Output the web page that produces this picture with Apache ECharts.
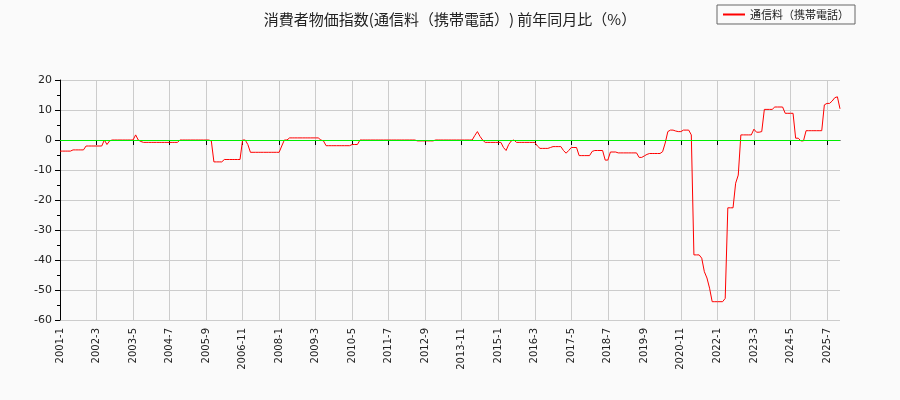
<!DOCTYPE html>
<html><head><meta charset="utf-8">
<script src="https://cdn.jsdelivr.net/npm/echarts@6/dist/echarts.min.js"></script>
<style>html,body{margin:0;background:#fafafa}#c{width:900px;height:400px}</style>
</head><body><div id="c"></div>
<script>
const v2001=[-3.7,-3.7,-3.7,-3.7,-3.7,-3.3,-3.3,-3.3,-3.3,-3.3,-2.0,-2.0];
const v2002=[-2.0,-2.0,-2.0,-2.0,-2.0,0,-1.5,-0.3,0,0,0,0];
const v2003=[0,0,0,0,0,1.7,0,-0.5,-0.8,-0.8,-0.8,-0.8];
const v2004=[-0.8,-0.8,-0.8,-0.8,-0.8,-0.8,-0.8,-0.8,-0.8,-0.8,0,0];
const v2005=[0,0,0,0,0,0,0,0,0,0,-0.3,-7.3];
const v2006=[-7.3,-7.3,-7.3,-6.5,-6.5,-6.5,-6.5,-6.5,-6.5,-6.5,0,0];
const v2007=[-1.5,-4.1,-4.1,-4.1,-4.1,-4.1,-4.1,-4.1,-4.1,-4.1,-4.1,-4.1];
const v2008=[-4.1,-2,0,0,0.7,0.7,0.7,0.7,0.7,0.7,0.7,0.7];
const v2009=[0.7,0.7,0.7,0.7,0,-0.3,-1.9,-1.9,-1.9,-1.9,-1.9,-1.9];
const v2010=[-1.9,-1.9,-1.9,-1.9,-1.5,-1.5,-1.5,0,0,0,0,0];
const v2011=[0,0,0,0,0,0,0,0,0,0,0,0];
const v2012=[0,0,0,0,0,-0.3,-0.3,-0.3,-0.3,-0.3,-0.3,-0.3];
const v2013=[0,0,0,0,0,0,0,0,0,0,0,0];
const v2014=[0,0,0,1.5,2.8,1.2,0,-0.8,-0.8,-0.8,-0.8,-0.8];
const v2015=[-0.8,-0.8,-2.5,-3.5,-1.5,-0.3,0,-0.8,-0.8,-0.8,-0.8,-0.8];
const v2016=[-0.8,-0.8,-0.8,-2,-2.8,-2.8,-2.8,-2.8,-2.5,-2.2,-2.2,-2.2];
const v2017=[-2.2,-3.5,-4.4,-3.5,-2.5,-2.5,-2.5,-5.2,-5.2,-5.2,-5.2,-5.2];
const v2018=[-3.8,-3.5,-3.5,-3.5,-3.5,-6.7,-6.7,-4,-4,-4,-4.3,-4.3];
const v2019=[-4.3,-4.3,-4.3,-4.3,-4.3,-4.3,-5.8,-5.8,-5.3,-4.8,-4.5,-4.5];
const v2020=[-4.5,-4.5,-4.5,-3.9,-1,2.8,3.3,3.3,3.0,2.8,2.8,3.3];
const v2021=[3.3,3.3,1.7,-38.3,-38.3,-38.3,-39.4,-43.9,-46,-49.4,-53.9,-53.9];
const v2022=[-53.9,-53.9,-53.9,-52.8,-22.6,-22.6,-22.6,-14.4,-11.7,1.7,1.7,1.7];
const v2023=[1.7,1.7,3.6,2.6,2.6,2.8,10.2,10.2,10.2,10.2,11,11];
const v2024=[11,11,8.9,8.9,8.9,8.9,0.6,0.6,-0.3,-0.3,3.1,3.1];
const v2025=[3.1,3.1,3.1,3.1,3.1,11.7,12.2,12.2,13,14.1,14.4,10.4];
const yearly=[v2001,v2002,v2003,v2004,v2005,v2006,v2007,v2008,v2009,v2010,v2011,v2012,v2013,v2014,v2015,v2016,v2017,v2018,v2019,v2020,v2021,v2022,v2023,v2024,v2025];
const categories=[], values=[];
yearly.forEach((arr,i)=>arr.forEach((v,j)=>{categories.push((2001+i)+'-'+(j+1));values.push(v);}));
const ch=echarts.init(document.getElementById('c'));
ch.setOption({
  backgroundColor:'#fafafa',
  animation:false,
  title:{text:'消費者物価指数(通信料（携帯電話）) 前年同月比（%）',left:'center',top:7,textStyle:{fontSize:15,fontWeight:'normal',color:'#222',fontFamily:'Noto Sans CJK JP'}},
  legend:{data:[{name:'通信料（携帯電話）',icon:'rect'}],right:45,top:5,borderColor:'#666',borderWidth:1,borderRadius:0,padding:[4,6],itemWidth:22,itemHeight:2,itemGap:5,textStyle:{fontSize:11,fontFamily:'Noto Sans CJK JP',color:'#222'}},
  grid:{left:60,right:60,top:80,bottom:80},
  xAxis:{type:'category',data:categories,boundaryGap:false,
    axisLine:{lineStyle:{color:'#000'}},
    axisTick:{interval:13,lineStyle:{color:'#000'}},
    axisLabel:{interval:13,rotate:90,fontSize:10,color:'#222',fontFamily:'DejaVu Sans'},
    splitLine:{show:true,interval:13,lineStyle:{color:'#ccc'}}},
  yAxis:{type:'value',min:-60,max:20,interval:10,
    axisLine:{show:true,lineStyle:{color:'#000'}},axisTick:{show:true},
    minorTick:{show:true,splitNumber:2},
    axisLabel:{fontSize:11,color:'#222',fontFamily:'DejaVu Sans'},
    splitLine:{lineStyle:{color:'#ccc'}}},
  series:[{name:'通信料（携帯電話）',type:'line',data:values,showSymbol:false,
    lineStyle:{color:'#ff0000',width:1},itemStyle:{color:'#ff0000'},
    markLine:{silent:true,symbol:'none',label:{show:false},lineStyle:{color:'#00ee00',type:'solid',width:1},data:[{yAxis:0}]}}]
});
</script></body></html>
